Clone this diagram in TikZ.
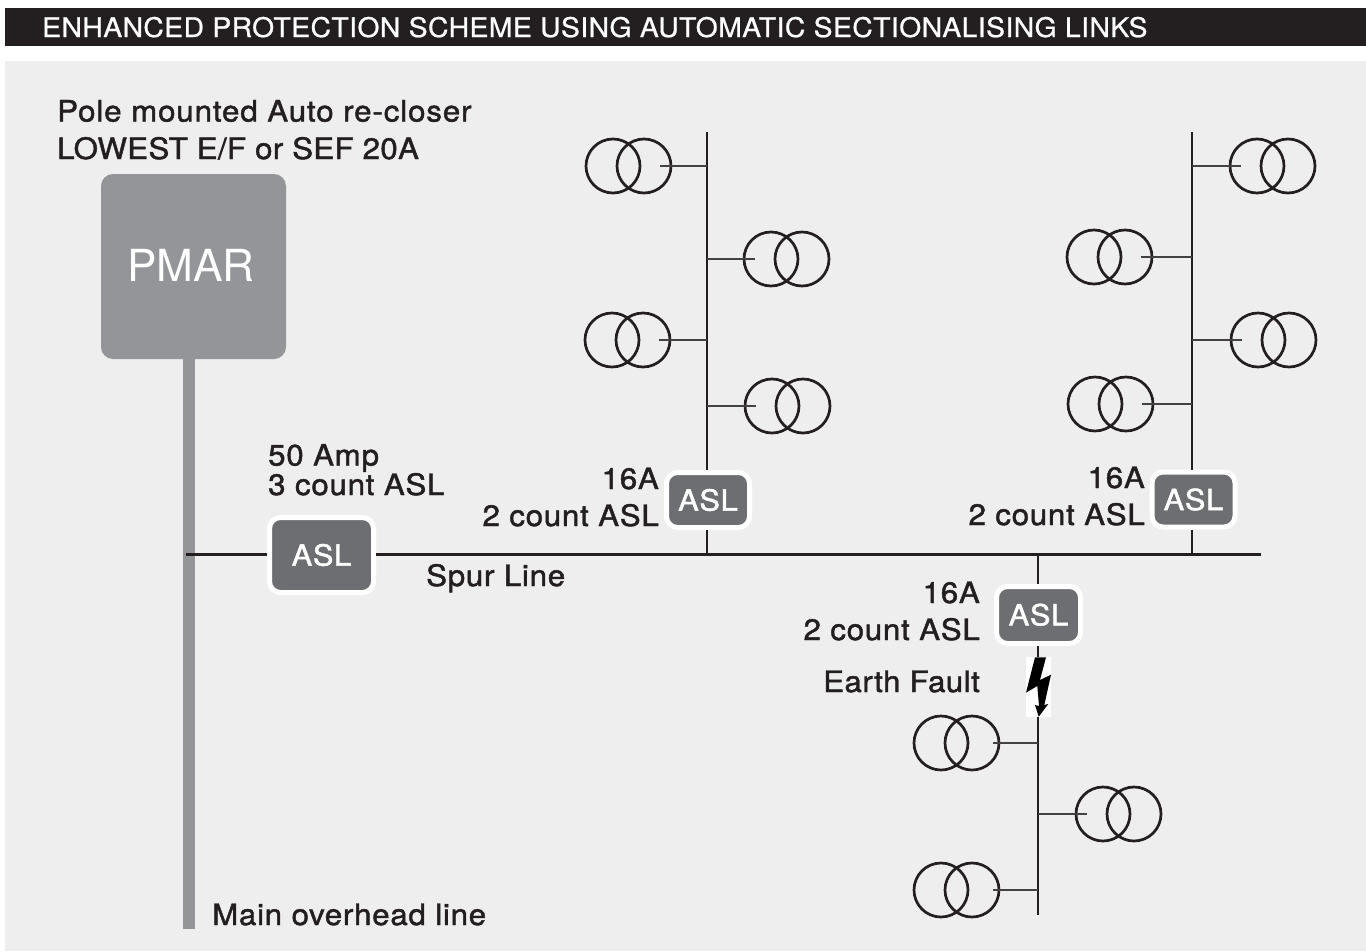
\documentclass[tikz,border=0pt]{standalone}
\usepackage{fontspec}
\setmainfont{TeX Gyre Heros}
\newfontfamily\medf[FakeBold=1.5,FakeStretch=1.06,LetterSpace=2.5]{TeX Gyre Heros}
\newfontfamily\medg[FakeBold=1.5,FakeStretch=1.06,LetterSpace=3]{TeX Gyre Heros}
\newfontfamily\medh[FakeBold=1.5,FakeStretch=1.06,LetterSpace=1.05]{TeX Gyre Heros}
\newfontfamily\medi[FakeBold=1.5,FakeStretch=1.06,LetterSpace=1.5]{TeX Gyre Heros}
\newfontfamily\titlef[FakeBold=0.8,FakeStretch=1.05,LetterSpace=1.55]{TeX Gyre Heros}
\definecolor{ink}{HTML}{231F20}
\definecolor{panel}{HTML}{EEEEEE}
\definecolor{pole}{HTML}{939598}
\definecolor{aslgrey}{HTML}{6D6E71}
\tikzset{
  aslbox/.style={draw=white,line width=5pt,fill=aslgrey,rounded corners=11pt,inner sep=0pt,text=white,font=\medf\fontsize{29}{29}\selectfont},
  lab/.style={inner sep=0pt,text=ink,font=\medf\fontsize{29.5}{29.5}\selectfont},
  xfc/.style={draw=ink,line width=2.7pt,circle,minimum size=54pt,inner sep=0pt},
  busline/.style={draw=ink,line width=2.4pt},
  stubline/.style={draw=ink!85,line width=1.5pt}
}
% name, left edge, y, bus x, stub end x
\newcommand{\xf}[5]{%
  \node[xfc] (#1a) at (#2+28,#3) {};
  \node[xfc] (#1b) at (#2+59,#3) {};
  \coordinate (#1s) at (#5,#3);
  \coordinate (#1t) at (#4,#3);
  \draw[stubline] (#1t) -- (#1s);
}
\begin{document}
\begin{tikzpicture}[x=1pt,y=-1pt]
\useasboundingbox (0,0) rectangle (1366,951);
\fill[white] (0,0) rectangle (1366,951);
\node[fill=ink,minimum width=1361pt,minimum height=38pt,inner sep=0pt,anchor=north west] (header) at (5,8) {};
\node[anchor=base west,inner sep=0pt,text=white,font=\titlef\fontsize{27}{27}\selectfont] (title) at (42,37) {ENHANCED PROTECTION SCHEME USING AUTOMATIC SECTIONALISING LINKS};
\node[fill=panel,minimum width=1361pt,minimum height=890pt,inner sep=0pt,anchor=north west] (bg) at (5,61) {};
% pole and PMAR
\node[fill=pole,minimum width=185pt,minimum height=185pt,rounded corners=12pt,inner sep=0pt] (pmar) at (193.5,266.5) {};
\node[inner sep=0pt,text=white,font=\fontsize{44.2}{44.2}\selectfont,anchor=base] (pmart) at (191,281) {PMAR};
\coordinate (poleend) at (189,929);
\draw[pole,line width=12pt] (189,359) -- (poleend);
% ASL nodes
\node[aslbox,minimum width=104pt,minimum height=75pt] (asl1) at (321.5,555) {ASL};
\node[aslbox,minimum width=83pt,minimum height=55pt] (asl2) at (708,500) {ASL};
\node[aslbox,minimum width=83pt,minimum height=55pt] (asl3) at (1193.5,499.5) {ASL};
\node[aslbox,minimum width=84pt,minimum height=57pt] (asl4) at (1038.5,615) {\raisebox{1pt}{ASL}};
% bolt background
\node[fill=white,minimum width=25pt,minimum height=60pt,inner sep=0pt] (bolt) at (1038.5,687) {};
% bus coordinates
\coordinate (mainl) at (186,554.5);
\coordinate (mainr) at (1261,554.5);
\coordinate (top1) at (707,132);
\coordinate (j1) at (707,554.5);
\coordinate (top2) at (1192,132);
\coordinate (j2) at (1192,554.5);
\coordinate (j3) at (1038,554.5);
\coordinate (botm) at (1038,915);
\draw[busline] (mainl) -- (mainl -| asl1.west);
\draw[busline] (mainr -| asl1.east) -- (mainr);
\draw[busline] (top1) -- (top1 |- asl2.north);
\draw[busline] (j1 |- asl2.south) -- (j1);
\draw[busline] (top2) -- (top2 |- asl3.north);
\draw[busline] (j2 |- asl3.south) -- (j2);
\draw[busline] (j3) -- (j3 |- asl4.north);
\draw[busline] (j3 |- asl4.south) -- (j3 |- bolt.north);
\draw[busline] (j3 |- bolt.south) -- (botm);
\fill[black] (1035,657.3) -- (1046,657.3) -- (1040,680) -- (1051,674.7) -- (1044.3,705) -- (1048.3,704) -- (1038.7,716.7) -- (1035,705) -- (1039,706) -- (1037.3,686) -- (1026,692.7) -- cycle;
% transformers
\xf{ta}{585}{166}{707}{660}
\xf{tb}{743}{259}{707}{755}
\xf{tc}{584}{340}{707}{659}
\xf{td}{744}{406}{707}{756}
\xf{te}{1229}{166}{1192}{1241}
\xf{tf}{1066}{257}{1192}{1141}
\xf{tg}{1230}{340}{1192}{1242}
\xf{th}{1067}{404}{1192}{1142}
\xf{ti}{913}{743}{1038}{993}
\xf{tj}{1075}{814}{1038}{1087}
\xf{tk}{913}{890}{1038}{993}
% labels
\node[lab,anchor=base west,align=left] (l1) at (57,159) {{\medg\fontsize{29.5}{29.5}\selectfont Pole mounted Auto re-closer}\\[8pt]{\medh\fontsize{29.5}{29.5}\selectfont LOWEST E/F or SEF 20A}};
\node[lab,anchor=base west,align=left] (l2) at (268,495) {50 Amp\\3 count ASL};
\node[lab,anchor=base east,align=right] (l3) at (659,526) {16A\\[7.5pt]2 count ASL};
\node[lab,anchor=base east,align=right] (l4) at (1145,525) {16A\\[7.5pt]2 count ASL};
\node[lab,anchor=base east,align=right] (l5) at (980,640) {16A\\[7.5pt]2 count ASL};
\node[lab,anchor=base east,font=\medi\fontsize{29.5}{29.5}\selectfont] (l6) at (980,692) {Earth Fault};
\node[lab,anchor=base west] (l7) at (426,586) {Spur Line};
\node[lab,anchor=base west] (l8) at (212,925) {Main overhead line};
\end{tikzpicture}
\end{document}
